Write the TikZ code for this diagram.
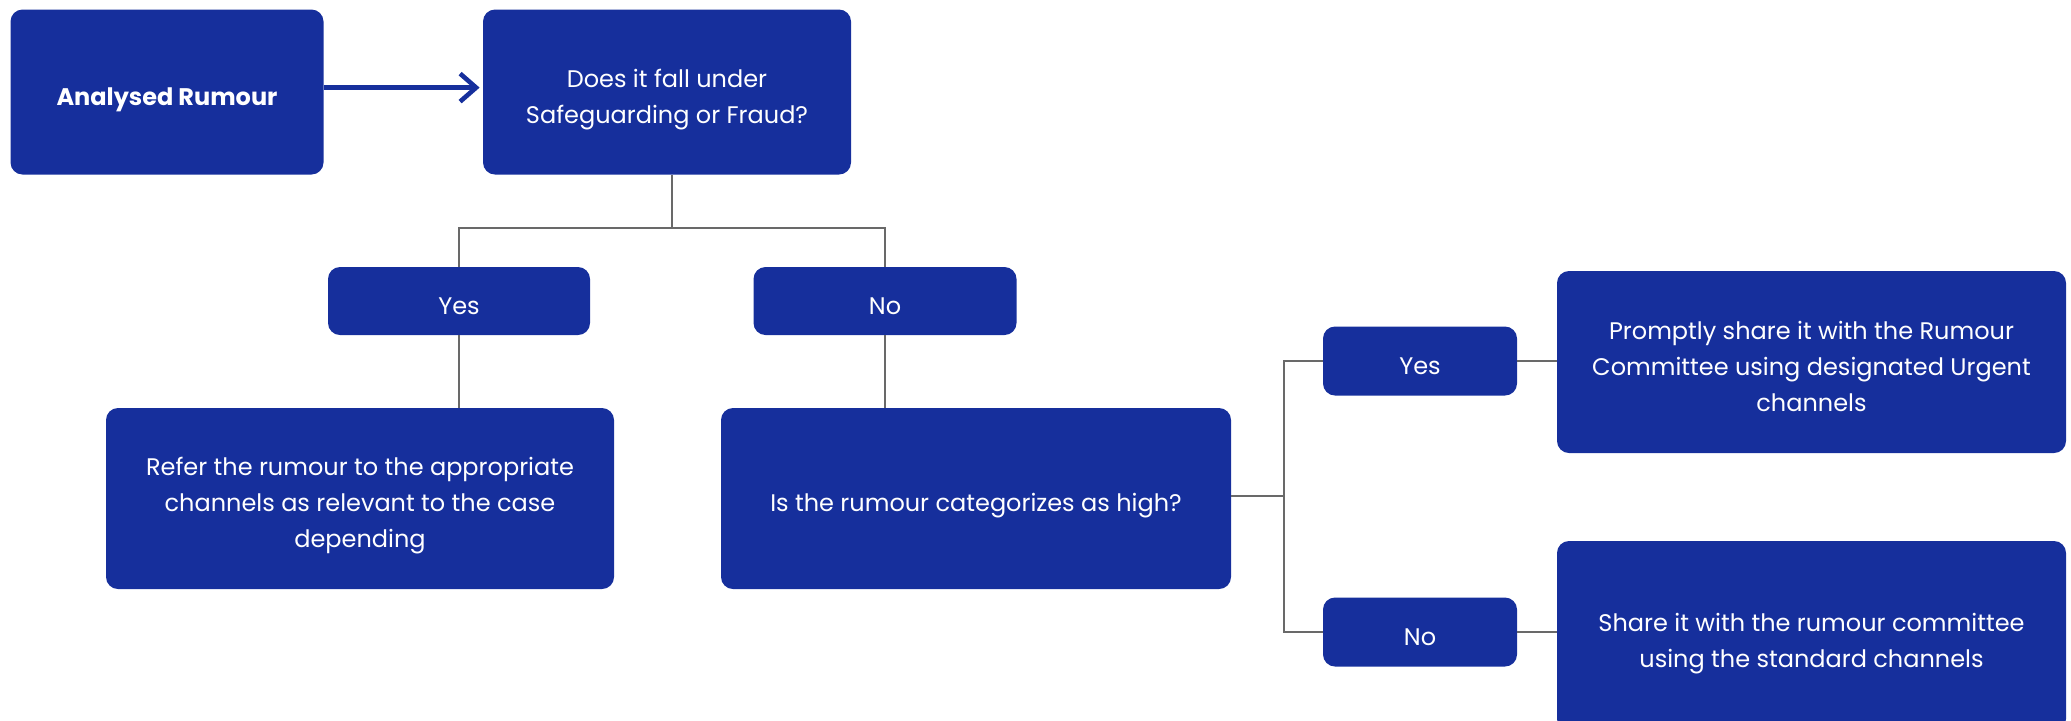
\documentclass[tikz,border=0pt]{standalone}
\usepackage{fontspec}
\setmainfont{Poppins}
\usetikzlibrary{arrows.meta}
\definecolor{boxblue}{RGB}{22,47,156}
\definecolor{linegray}{RGB}{105,105,105}
% card text: centred lines, set a little below the optical centre
\newcommand\cardlines[1]{\raisebox{-3pt}[\height][\depth]{\begin{tabular}{@{}c@{}}#1\end{tabular}}}
\begin{document}
\begin{tikzpicture}[x=0.5pt,y=-0.5pt,
  card/.style={rounded corners=6pt, fill=boxblue, text=white,
    inner sep=0pt, font=\fontsize{12}{18}\selectfont},
  link/.style={draw=linegray, line width=0.8pt},
  flow/.style={draw=boxblue, line width=2.3pt, -{Straight Barb[length=8pt,width=14pt,line width=2.3pt]}}]
  \useasboundingbox (0,0) rectangle (2071,720);

  % top row
  \node[card, minimum width=156.5pt, minimum height=82.5pt, font=\fontsize{12}{18}\selectfont\bfseries] (ar) at (167,92) {\cardlines{Analysed Rumour}};
  \node[card, minimum width=184pt, minimum height=82.5pt] (q1) at (667,92) {\cardlines{Does it fall under\\Safeguarding or Fraud?}};

  % first decision
  \node[card, minimum width=131pt, minimum height=34pt] (y1) at (459,301) {\cardlines{Yes}};
  \node[card, minimum width=131.5pt, minimum height=34pt] (n1) at (885,301) {\cardlines{No}};

  \node[card, minimum width=254pt, minimum height=90.5pt] (refer) at (360,498.5) {\cardlines{Refer the rumour to the appropriate\\channels as relevant to the case\\depending}};
  \node[card, minimum width=255pt, minimum height=90.5pt] (isq) at (976,498.5) {\cardlines{Is the rumour categorizes as high?}};

  % second decision
  \node[card, minimum width=97pt, minimum height=34.5pt] (y2) at (1420,361) {\cardlines{Yes}};
  \node[card, minimum width=97pt, minimum height=34.5pt] (n2) at (1420,632) {\cardlines{No}};

  \node[card, minimum width=254.5pt, minimum height=91pt] (prom) at (1811.5,362) {\cardlines{Promptly share it with the Rumour\\Committee using designated Urgent\\channels}};
  \node[card, minimum width=254.5pt, minimum height=95pt] (share) at (1811.5,636) {\cardlines{Share it with the rumour committee\\using the standard channels}};

  % connectors
  \draw[flow, shorten >=1.5pt] ([yshift=2.2pt]ar.east) -- ([yshift=2.2pt]q1.west);

  \coordinate (split1) at (672,228);
  \draw[link] ([xshift=2.5pt]q1.south) -- (split1);
  \draw[link] (y1.north) |- (split1) -| (n1.north);
  \draw[link] (y1.south) -- (y1.south |- refer.north);
  \draw[link] (n1.south) -- (n1.south |- refer.north);

  \coordinate (split2) at (1284,496);
  \draw[link] ([yshift=1.25pt]isq.east) -- (split2);
  \draw[link] (y2.west) -| (split2) |- (n2.west);
  \draw[link] (y2.east) -- (y2.east -| prom.west);
  \draw[link] (n2.east) -- (n2.east -| share.west);
\end{tikzpicture}
\end{document}
